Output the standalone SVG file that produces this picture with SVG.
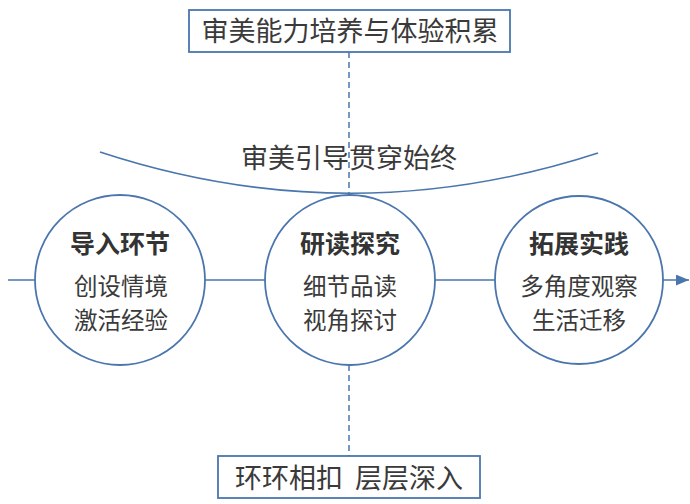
<svg xmlns="http://www.w3.org/2000/svg" width="690" height="504" viewBox="0 0 690 504">
<style>
.ln{stroke:#4a76ad;stroke-width:1.6;fill:none}
.dash{stroke:#4a76ad;stroke-width:1.5;stroke-dasharray:6,4;fill:none}
.box{fill:#fff;stroke:#4a76ad;stroke-width:1.8}
.circ{fill:#fff;stroke:#4a76ad;stroke-width:1.8}
text{font-family:"Noto Sans CJK SC","Noto Sans",sans-serif;fill:#3a3a3a;text-anchor:middle}
.t{font-size:23.5px}
.b{font-size:27px}
.h{font-size:25px;font-weight:bold;fill:#333}
</style>
<defs>
<marker id="ar" viewBox="0 0 12 10" refX="12" refY="5" markerWidth="13" markerHeight="11" markerUnits="userSpaceOnUse" orient="auto">
<path d="M0,0 L12,5 L0,10 z" fill="#4a76ad"/>
</marker>
</defs>
<g id="connectors">
<line class="ln" x1="8" y1="280" x2="689" y2="280" marker-end="url(#ar)"/>
<line class="dash" x1="349" y1="52" x2="349" y2="195"/>
<line class="dash" x1="349" y1="365" x2="349" y2="456"/>
<path class="ln" d="M100,152 Q349,234 598,153"/>
</g>
<g id="top-box">
<rect class="box" x="189" y="10" width="321" height="42"/>
<text class="b" x="350" y="41">审美能力培养与体验积累</text>
</g>
<g id="arc-label">
<text class="b" x="349" y="168">审美引导贯穿始终</text>
</g>
<g id="node1">
<circle class="circ" cx="120" cy="280" r="85"/>
<text class="h" x="120" y="253">导入环节</text>
<text class="t" x="121" y="295">创设情境</text>
<text class="t" x="121" y="329">激活经验</text>
</g>
<g id="node2">
<circle class="circ" cx="350" cy="280" r="85"/>
<text class="h" x="350" y="253">研读探究</text>
<text class="t" x="350" y="295">细节品读</text>
<text class="t" x="350" y="329">视角探讨</text>
</g>
<g id="node3">
<circle class="circ" cx="579" cy="280" r="84"/>
<text class="h" x="579" y="253">拓展实践</text>
<text class="t" x="579" y="295">多角度观察</text>
<text class="t" x="579" y="329">生活迁移</text>
</g>
<g id="bottom-box">
<rect class="box" x="218" y="456" width="262" height="42"/>
<text class="b" x="349" y="488" xml:space="preserve">环环相扣  层层深入</text>
</g>
</svg>
